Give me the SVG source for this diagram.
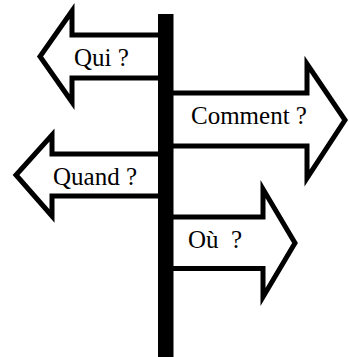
<svg xmlns="http://www.w3.org/2000/svg" width="349" height="357" viewBox="0 0 349 357">
<style>
.arrow{fill:#fff;stroke:#000;stroke-width:5;stroke-linejoin:miter;stroke-miterlimit:10}
.lbl{font-family:"Liberation Serif","Times New Roman",serif;font-size:25px;fill:#000;white-space:pre}
</style>
<rect width="349" height="357" fill="#fff"/>
<g id="qui">
<path class="arrow" d="M165,35 H72 V11 L40,56.5 L72,102 V78 H165 Z"/>
<text class="lbl" x="74" y="66">Qui ?</text>
</g>
<g id="comment">
<path class="arrow" d="M166,93 H307 V64 L345,120 L307,178 V146 H166 Z"/>
<text class="lbl" x="191" y="124">Comment ?</text>
</g>
<g id="quand">
<path class="arrow" d="M165,154 H52 V135 L16,175 L52,216 V196 H165 Z"/>
<text class="lbl" x="53" y="185">Quand ?</text>
</g>
<g id="ou">
<path class="arrow" d="M166,217 H263 V189 L295,243 L263,297 V268.5 H166 Z"/>
<text class="lbl" x="188" y="248" xml:space="preserve">Où  ?</text>
</g>
<g id="connectors">
<rect id="pole" x="158" y="14" width="15.5" height="343" fill="#000"/>
</g>
</svg>
